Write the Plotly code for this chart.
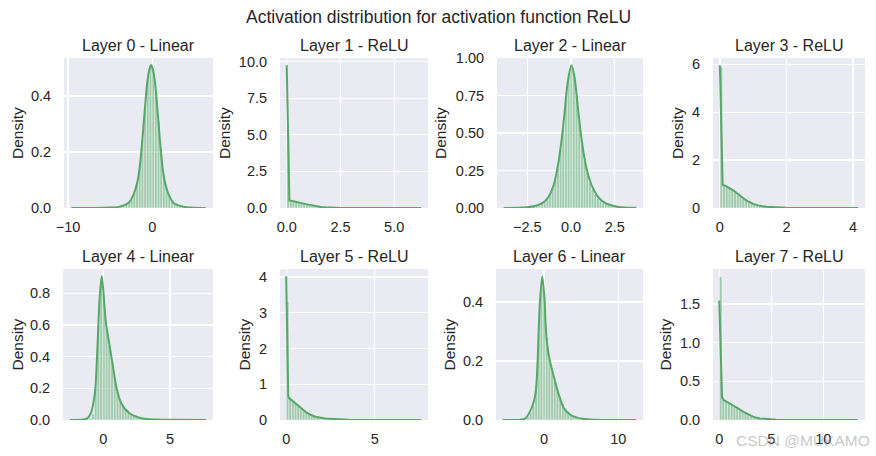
import numpy as np
import plotly.graph_objects as go

# ---------------- data ----------------
titles = ["Layer 0 - Linear", "Layer 1 - ReLU", "Layer 2 - Linear", "Layer 3 - ReLU",
          "Layer 4 - Linear", "Layer 5 - ReLU", "Layer 6 - Linear", "Layer 7 - ReLU"]
suptitle = "Activation distribution for activation function ReLU"

# data min / max of each layer's activations (histogram uses 50 equal bins)
data_min = [-9.6, 0.0, -3.85, 0.0, -2.51, 0.0, -5.56, 0.0]
data_max = [6.3, 6.26, 3.73, 4.15, 7.71, 7.6, 12.42, 13.3]
n_bins = 50

hist0 = [0.0001, 0.0001, 0.0001, 0.0002, 0.0002, 0.0003, 0.0003, 0.0004, 0.0005, 0.0006,
         0.0008, 0.001, 0.0012, 0.0014, 0.0015, 0.002, 0.003, 0.004, 0.006, 0.009,
         0.013, 0.02, 0.032, 0.055, 0.09, 0.15, 0.245, 0.36, 0.46, 0.51,
         0.49, 0.415, 0.31, 0.19, 0.12, 0.072, 0.044, 0.026, 0.017, 0.011,
         0.008, 0.005, 0.0035, 0.0025, 0.0018, 0.0012, 0.0008, 0.0005, 0.0003, 0.0002]
hist1 = [5.4, 0.49, 0.46, 0.43, 0.39, 0.35, 0.30, 0.25, 0.21, 0.17,
         0.13, 0.10, 0.08, 0.06, 0.045, 0.033, 0.024, 0.017, 0.012, 0.009,
         0.006, 0.004, 0.003, 0.002, 0.0015, 0.001, 0.001, 0.0008, 0.0006, 0.0005,
         0.0004, 0.0003, 0.0003, 0.0002, 0.0002, 0.0002, 0.0001, 0.0001, 0.0001, 0.0001,
         0.0001, 0.0001, 0.0001, 0.0001, 0.0001, 0.0001, 0.0001, 0.0001, 0.0001, 0.0001]
hist2 = [0.0001, 0.0002, 0.0003, 0.0005, 0.0007, 0.001, 0.0015, 0.0022, 0.0032, 0.0046,
         0.0066, 0.0095, 0.0135, 0.019, 0.028, 0.04, 0.06, 0.088, 0.13, 0.19,
         0.275, 0.39, 0.545, 0.73, 0.90, 0.95, 0.90, 0.75, 0.58, 0.43,
         0.32, 0.235, 0.17, 0.125, 0.09, 0.065, 0.047, 0.034, 0.024, 0.017,
         0.012, 0.008, 0.0055, 0.0038, 0.0026, 0.0018, 0.0012, 0.0008, 0.0005, 0.0003]
hist3 = [5.9, 0.95, 0.90, 0.83, 0.77, 0.68, 0.58, 0.49, 0.40, 0.31,
         0.25, 0.19, 0.15, 0.115, 0.09, 0.07, 0.052, 0.04, 0.03, 0.022,
         0.016, 0.012, 0.009, 0.007, 0.005, 0.004, 0.003, 0.002, 0.0015, 0.0012,
         0.001, 0.0008, 0.0006, 0.0005, 0.0004, 0.0003, 0.0002, 0.0002, 0.0002, 0.0001,
         0.0001, 0.0001, 0.0001, 0.0001, 0.0001, 0.0001, 0.0001, 0.0001, 0.0001, 0.0001]
hist4 = [0.0001, 0.0002, 0.0003, 0.0005, 0.001, 0.002, 0.004, 0.012, 0.04, 0.2,
         0.6, 0.86, 0.78, 0.58, 0.47, 0.37, 0.26, 0.18, 0.13, 0.095,
         0.07, 0.05, 0.038, 0.028, 0.02, 0.015, 0.011, 0.008, 0.006, 0.0045,
         0.0035, 0.0027, 0.002, 0.0016, 0.0012, 0.001, 0.0008, 0.0007, 0.0006, 0.0005,
         0.0004, 0.0003, 0.0003, 0.0002, 0.0002, 0.0002, 0.0001, 0.0001, 0.0001, 0.0001]
hist5 = [3.3, 0.60, 0.54, 0.47, 0.40, 0.33, 0.27, 0.21, 0.165, 0.125,
         0.095, 0.072, 0.055, 0.042, 0.032, 0.024, 0.018, 0.014, 0.010, 0.008,
         0.006, 0.0045, 0.0035, 0.0027, 0.002, 0.0016, 0.0013, 0.001, 0.0008, 0.0006,
         0.0005, 0.0004, 0.0003, 0.0003, 0.0002, 0.0002, 0.0001, 0.0001, 0.0001, 0.0001,
         0.0001, 0.0001, 0.0001, 0.0001, 0.0001, 0.0001, 0.0001, 0.0001, 0.0001, 0.0001]
hist6 = [0.0001, 0.0001, 0.0002, 0.0004, 0.0006, 0.001, 0.0015, 0.003, 0.006, 0.012,
         0.025, 0.05, 0.12, 0.29, 0.45, 0.43, 0.28, 0.21, 0.165, 0.13,
         0.10, 0.077, 0.056, 0.04, 0.028, 0.02, 0.014, 0.01, 0.007, 0.005,
         0.0035, 0.0025, 0.0018, 0.0013, 0.001, 0.0008, 0.0007, 0.0006, 0.0005, 0.0004,
         0.0003, 0.0003, 0.0002, 0.0002, 0.0002, 0.0001, 0.0001, 0.0001, 0.0001, 0.0001]
hist7 = [1.85, 0.26, 0.24, 0.22, 0.20, 0.18, 0.155, 0.13, 0.11, 0.09,
         0.07, 0.055, 0.042, 0.032, 0.024, 0.018, 0.013, 0.01, 0.0075, 0.0055,
         0.004, 0.003, 0.0023, 0.0017, 0.0013, 0.001, 0.0008, 0.0007, 0.0006, 0.0005,
         0.0004, 0.0003, 0.0003, 0.0002, 0.0002, 0.0002, 0.0001, 0.0001, 0.0001, 0.0001,
         0.0001, 0.0001, 0.0001, 0.0001, 0.0001, 0.0001, 0.0001, 0.0001, 0.0001, 0.0001]

kde0_x = [-9.6, -7, -5, -4, -3.3, -2.7, -2.2, -1.8, -1.5, -1.2, -0.9, -0.6, -0.35, -0.15,
          0.05, 0.3, 0.6, 0.9, 1.2, 1.5, 1.9, 2.4, 3.0, 4.0, 5.0, 6.3]
kde0_y = [0.0, 0.0003, 0.0015, 0.004, 0.01, 0.022, 0.05, 0.09, 0.145, 0.24, 0.35, 0.45, 0.495, 0.51,
          0.495, 0.45, 0.35, 0.24, 0.145, 0.09, 0.05, 0.022, 0.01, 0.003, 0.001, 0.0002]
kde1_x = [0, 0.031, 0.063, 0.094, 0.125, 0.2, 0.4, 0.6, 0.8, 1.0, 1.2, 1.4, 1.6, 1.8, 2.0,
          2.5, 3.0, 4.0, 5.0, 6.26]
kde1_y = [9.76, 7.0, 3.0, 0.9, 0.52, 0.49, 0.44, 0.38, 0.30, 0.23, 0.16, 0.11, 0.07, 0.045, 0.028,
          0.008, 0.003, 0.001, 0.0003, 0.0]
kde2_x = [-3.85, -3.0, -2.5, -2.0, -1.6, -1.3, -1.0, -0.8, -0.6, -0.4, -0.2, 0.02, 0.2, 0.4,
          0.6, 0.8, 1.0, 1.3, 1.6, 2.0, 2.5, 3.0, 3.73]
kde2_y = [0.0001, 0.001, 0.005, 0.015, 0.036, 0.072, 0.15, 0.25, 0.40, 0.60, 0.83, 0.952, 0.87, 0.66,
          0.46, 0.31, 0.21, 0.12, 0.065, 0.03, 0.012, 0.004, 0.001]
kde3_x = [0, 0.021, 0.042, 0.063, 0.083, 0.2, 0.4, 0.6, 0.8, 1.0, 1.2, 1.4, 1.6, 1.8, 2.0,
          2.5, 3.0, 4.15]
kde3_y = [5.96, 4.6, 2.4, 1.2, 0.97, 0.9, 0.74, 0.52, 0.31, 0.17, 0.09, 0.048, 0.024, 0.012, 0.006,
          0.001, 0.0003, 0.0]
kde4_x = [-2.51, -1.5, -1.2, -0.9, -0.7, -0.59, -0.47, -0.37, -0.27, -0.12, 0.0, 0.1, 0.22,
          0.47, 0.72, 0.97, 1.34, 1.96, 2.95, 4.0, 5.0, 7.71]
kde4_y = [0.0, 0.003, 0.01, 0.05, 0.13, 0.2, 0.4, 0.6, 0.78, 0.907, 0.82, 0.70, 0.60,
          0.47, 0.34, 0.21, 0.106, 0.043, 0.01, 0.003, 0.001, 0.0]
kde5_x = [0, 0.038, 0.076, 0.114, 0.152, 0.3, 0.52, 0.8, 1.09, 1.4, 1.65, 2.2, 2.8, 3.5, 5.0, 7.6]
kde5_y = [4.02, 2.9, 1.3, 0.68, 0.62, 0.56, 0.47, 0.35, 0.23, 0.14, 0.09, 0.04, 0.015, 0.005, 0.001, 0.0]
kde6_x = [-5.56, -3.2, -2.5, -1.86, -1.4, -1.09, -0.86, -0.55, -0.23, 0.09, 0.2, 0.41, 0.77,
          1.32, 2.0, 2.68, 3.6, 5.2, 7.0, 12.42]
kde6_y = [0.0, 0.001, 0.006, 0.03, 0.06, 0.1, 0.2, 0.4, 0.4875, 0.40, 0.33, 0.26, 0.203,
          0.147, 0.085, 0.04, 0.017, 0.004, 0.001, 0.0]
kde7_x = [0, 0.067, 0.13, 0.2, 0.27, 0.4, 0.8, 1.37, 1.8, 2.33, 2.8, 3.29, 3.9, 4.57, 5.5, 7.0, 13.3]
kde7_y = [1.54, 1.2, 0.75, 0.42, 0.3, 0.26, 0.23, 0.19, 0.15, 0.105, 0.07, 0.04, 0.02, 0.01, 0.004, 0.001, 0.0]

hists = [hist0, hist1, hist2, hist3, hist4, hist5, hist6, hist7]
kdes_x = [kde0_x, kde1_x, kde2_x, kde3_x, kde4_x, kde5_x, kde6_x, kde7_x]
kdes_y = [kde0_y, kde1_y, kde2_y, kde3_y, kde4_y, kde5_y, kde6_y, kde7_y]
is_relu = [False, True, False, True, False, True, False, True]

# ---------------- layout / styling ----------------
W, H = 876, 456
GREEN = "#55a868"
BG = "#eaeaf2"
TXT = "#262626"
FONT = "Liberation Sans, Arial, sans-serif"

# plot-area boxes in pixels: (left, right, top, bottom)
boxes = [(64, 213, 58, 208), (280, 428, 58, 208), (497, 643, 58, 208), (713, 865, 58, 208),
         (63, 213, 269, 420), (280, 428, 269, 420), (496, 643, 269, 420), (713, 865, 269, 420)]
xranges = [(-10.47, 7.18), (-0.313, 6.573), (-4.23, 4.11), (-0.207, 4.357),
           (-3.02, 8.22), (-0.35, 8.0), (-6.46, 13.32), (-0.6, 14.0)]
yranges = [(0, 0.535), (0, 10.25), (0, 1.0), (0, 6.26),
           (0, 0.953), (0, 4.22), (0, 0.512), (0, 1.95)]
xdticks = [10, 2.5, 2.5, 2, 5, 5, 10, 5]
xformats = ["d", ".1f", ".1f", "d", "d", "d", "d", "d"]
ydticks = [0.2, 2.5, 0.25, 2, 0.2, 1, 0.2, 0.5]
yformats = [".1f", ".1f", ".2f", "d", ".1f", "d", ".1f", ".1f"]
density_x = [17, 224, 440, 677, 17, 244, 449, 665]

fig = go.Figure()
layout = dict(
    width=W, height=H, margin=dict(l=0, r=0, t=0, b=0, pad=0, autoexpand=False),
    paper_bgcolor="white", plot_bgcolor=BG, showlegend=False,
    font=dict(family=FONT, color=TXT, size=14.5),
    bargap=0,
)
annotations = []

for i in range(8):
    n = "" if i == 0 else str(i + 1)
    edges = np.linspace(data_min[i], data_max[i], n_bins + 1)
    centers = (edges[:-1] + edges[1:]) / 2
    bw = edges[1] - edges[0]
    fig.add_trace(go.Bar(
        x=centers, y=hists[i], width=bw,
        marker=dict(color="rgba(85,168,104,0.5)", line=dict(color="rgba(255,255,255,0.8)", width=0.5)),
        xaxis="x" + n, yaxis="y" + n, hoverinfo="skip"))
    fig.add_trace(go.Scatter(
        x=kdes_x[i], y=kdes_y[i], mode="lines",
        line=dict(color=GREEN, width=2, shape="linear" if is_relu[i] else "spline", smoothing=0.8),
        xaxis="x" + n, yaxis="y" + n, hoverinfo="skip"))

    l, r, t, b = boxes[i]
    layout["xaxis" + n] = dict(
        domain=[l / W, r / W], anchor="y" + n, range=list(xranges[i]),
        tick0=0, dtick=xdticks[i], tickformat=xformats[i],
        showgrid=True, gridcolor="white", gridwidth=1.3, zeroline=False,
        showline=False, ticks="outside", ticklen=6, tickcolor="rgba(0,0,0,0)",
        tickfont=dict(size=14.5, color=TXT, family=FONT), fixedrange=True, automargin=False)
    layout["yaxis" + n] = dict(
        domain=[1 - b / H, 1 - t / H], anchor="x" + n, range=list(yranges[i]),
        tick0=0, dtick=ydticks[i], tickformat=yformats[i],
        showgrid=True, gridcolor="white", gridwidth=1.3, zeroline=False,
        showline=False, ticks="outside", ticklen=9, tickcolor="rgba(0,0,0,0)",
        tickfont=dict(size=14.5, color=TXT, family=FONT), fixedrange=True, automargin=False)

    title_y = 45 if i < 4 else 256
    annotations.append(dict(
        text=titles[i], x=(l + r) / 2 / W, y=1 - title_y / H, xref="paper", yref="paper",
        xanchor="center", yanchor="middle", showarrow=False,
        font=dict(size=16, color=TXT, family=FONT)))
    annotations.append(dict(
        text="Density", x=density_x[i] / W, y=1 - (t + b) / 2 / H, xref="paper", yref="paper",
        xanchor="center", yanchor="middle", textangle=-90, showarrow=False,
        font=dict(size=15.5, color=TXT, family=FONT)))

annotations.append(dict(
    text=suptitle, x=0.5, y=1 - 17 / H, xref="paper", yref="paper",
    xanchor="center", yanchor="middle", showarrow=False,
    font=dict(size=17.5, color=TXT, family=FONT)))
annotations.append(dict(
    text="CSDN @MUKAMO", x=872 / W, y=1 - 440 / H, xref="paper", yref="paper",
    xanchor="right", yanchor="middle", showarrow=False,
    font=dict(size=15.5, color="rgba(150,150,150,0.55)", family=FONT)))

layout["annotations"] = annotations
fig.update_layout(**layout)
fig.write_html("out.html", config={"displayModeBar": False, "staticPlot": True},
               post_script="document.body.style.margin='0';document.body.style.overflow='hidden';")
